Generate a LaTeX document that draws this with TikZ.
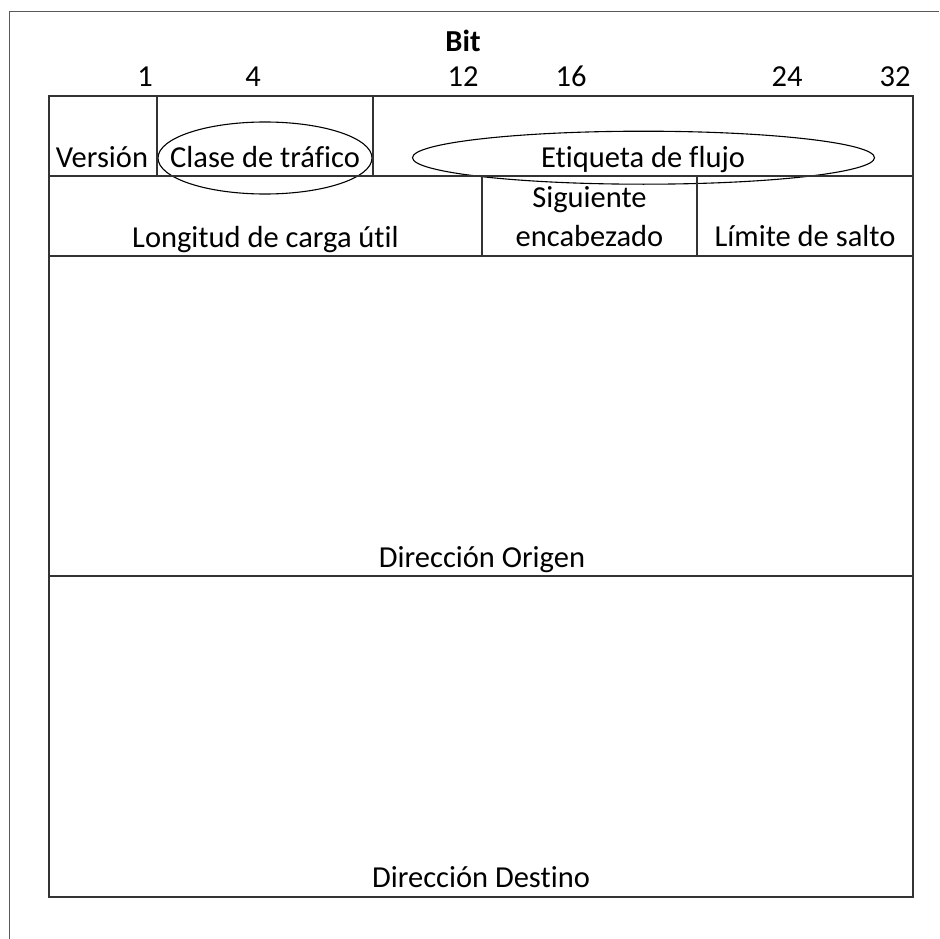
\documentclass[tikz,border=0pt]{standalone}
\usepackage{fontspec}
\setmainfont{Carlito}[Ligatures=NoCommon]
\usetikzlibrary{shapes.geometric}
\begin{document}
\begin{tikzpicture}[x=1pt,y=-1pt,
  sheet/.style={draw=black!65, line width=0.9pt},
  rule/.style={draw=black!80, line width=1.7pt},
  oval/.style={ellipse, draw=black, line width=1.1pt, inner sep=0pt},
  label/.style={anchor=base, inner sep=0pt, font=\fontsize{30.5}{39}\selectfont},
  bitnum/.style={label}]
  % page size
  \useasboundingbox (0,0) rectangle (939,939);
  % page edge
  \draw[sheet] (9.5,939) -- (9.5,11) -- (939,11);

  % header field ellipses
  \node[oval, minimum width=214pt, minimum height=72pt] (ctoval) at (265,158) {};
  \node[oval, minimum width=462pt, minimum height=53pt] (efoval) at (643.5,157.7) {};

  % header table
  \draw[rule] (49,96) rectangle (913,897);
  \draw[rule] (49,176) -- (913,176);
  \draw[rule] (49,256) -- (913,256);
  \draw[rule] (49,576) -- (913,576);
  \draw[rule] (157,96) -- (157,176);
  \draw[rule] (373,96) -- (373,176);
  \draw[rule] (482,176) -- (482,256);
  \draw[rule] (697,176) -- (697,256);

  % bit positions
  \node[label, font=\fontsize{30.5}{39}\selectfont\bfseries] (bit) at (463,52) {Bit};
  \node[bitnum] (b1) at (145,87) {1};
  \node[bitnum] (b4) at (253,87) {4};
  \node[bitnum] (b12) at (463,87) {12};
  \node[bitnum] (b16) at (571,87) {16};
  \node[bitnum] (b24) at (787,87) {24};
  \node[bitnum] (b32) at (895,87) {32};

  % field names
  \node[label] (ver) at (102,167) {Versión};
  \node[label] (ct) at (265,167) {Clase de tráfico};
  \node[label] (ef) at (643,167) {Etiqueta de flujo};
  \node[label] (lc) at (265.5,247) {Longitud de carga útil};
  \node[label] (sig) at (589.5,207) {Siguiente};
  \node[label] (enc) at (589.5,246) {encabezado};
  \node[label] (ls) at (805,246) {Límite de salto};
  \node[label] (src) at (482,567) {Dirección Origen};
  \node[label] (dst) at (481,887) {Dirección Destino};
\end{tikzpicture}
\end{document}
